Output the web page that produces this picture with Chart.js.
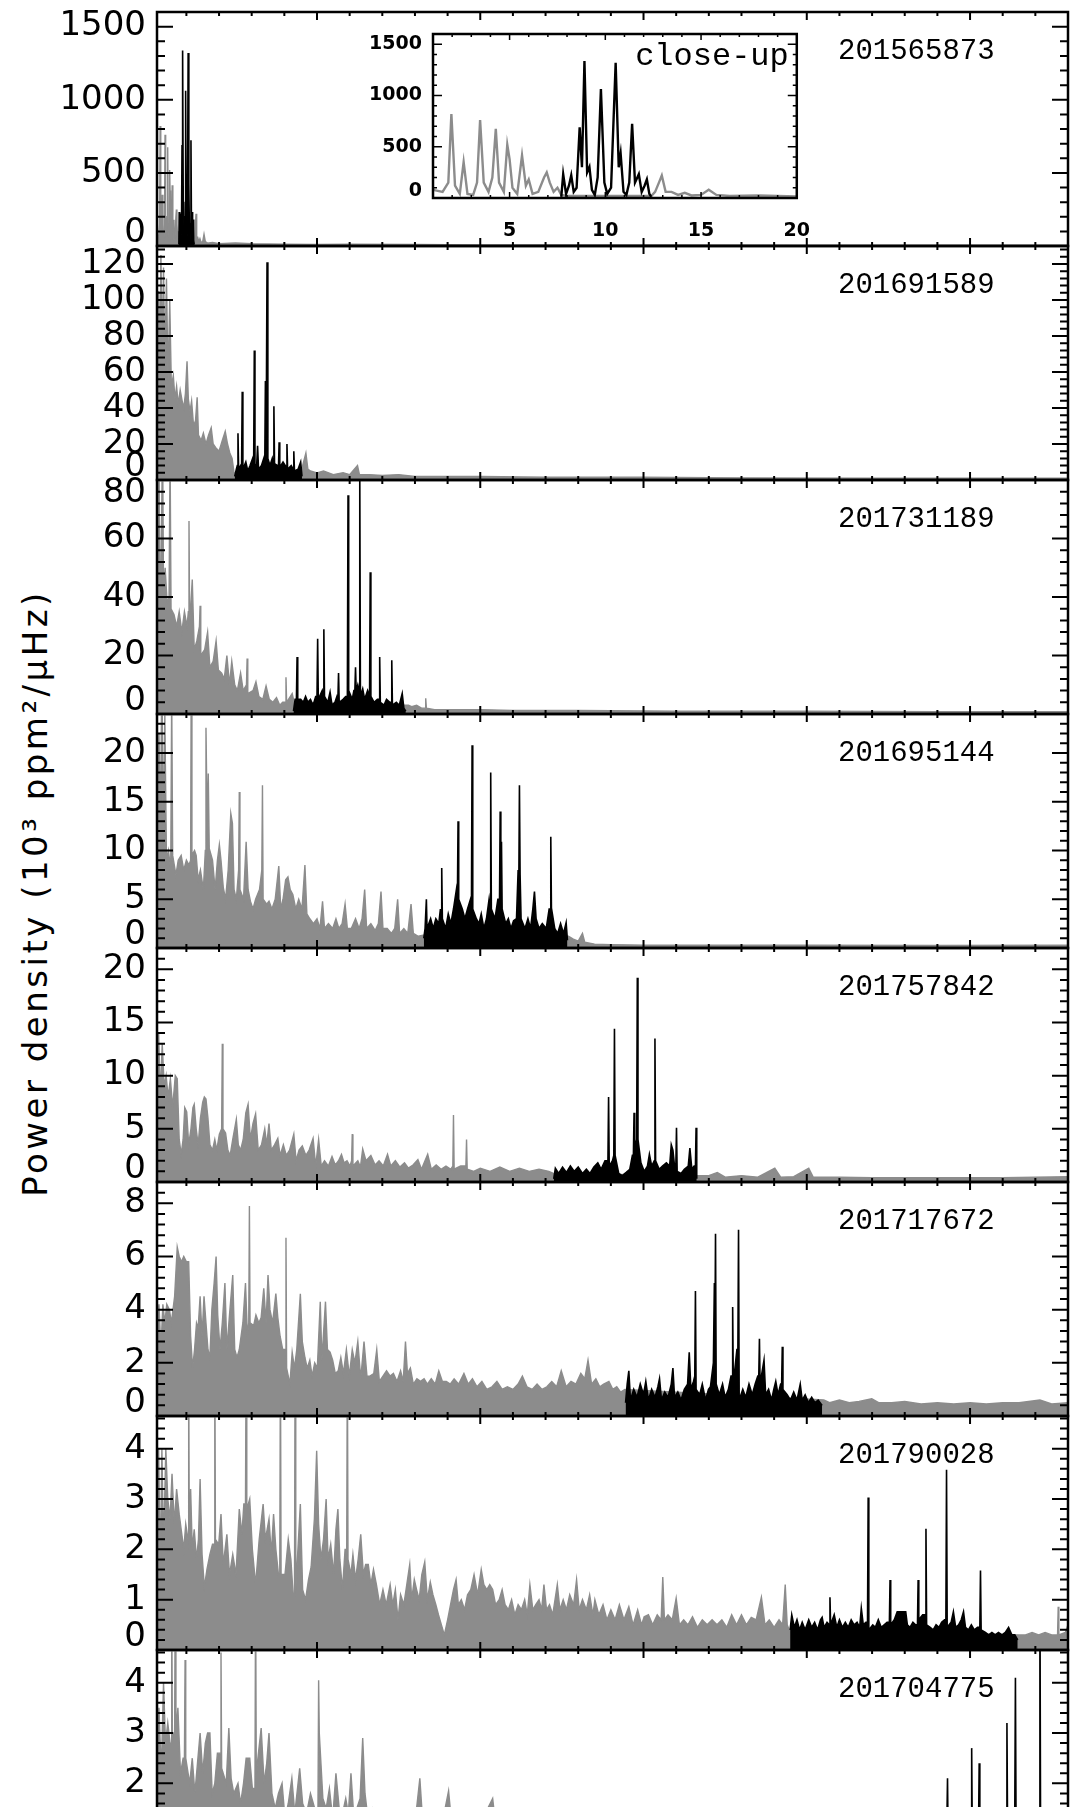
<!DOCTYPE html>
<html><head><meta charset="utf-8">
<script src="https://cdn.jsdelivr.net/npm/chart.js@4.4.1/dist/chart.umd.min.js"></script>
<style>
html,body{margin:0;padding:0;background:#fff;}
#wrap{position:relative;width:1073px;height:1807px;overflow:hidden;background:#fff;}
#wrap canvas{position:absolute;}
#ytitle{position:absolute;left:35px;top:893px;transform:translate(-50%,-50%) rotate(-90deg);font-family:'DejaVu Sans';font-size:34px;letter-spacing:3.5px;white-space:nowrap;color:#000;}
</style></head><body>
<div id="wrap"><div id="ytitle">Power density (10³ ppm²/μHz)</div></div>
<script>
// ---------------- DATA (frequency in μHz, power density in 10^3 ppm^2/μHz) ----------------
const starIds = ['201565873','201691589','201731189','201695144','201757842','201717672','201790028','201704775'];
const freqMin = 1, freqMax = 280;
const xMajorStep = 50, xMinorStep = 10;
const yMaxes = [1600, 130, 80, 24, 22, 8.8, 4.65, 4.65];
const yTickValues = [[0,500,1000,1500],[0,20,40,60,80,100,120],[0,20,40,60,80],[0,5,10,15,20],[0,5,10,15,20],[0,2,4,6,8],[0,1,2,3,4],[0,1,2,3,4]];
const yMajorSteps = [500, 20, 20, 5, 5, 2, 1, 1];
const yMinorSteps = [100, 4, 4, 1, 1, 0.4, 0.2, 0.2];
const topLabelShift = [false, false, true, false, false, false, false, false];
const insetFreqMin = 1, insetFreqMax = 20, insetXMajor = 5, insetXMinor = 1;
const insetXTickValues = [5, 10, 15, 20];
const insetYMax = 1600, insetYMajor = 500, insetYMinor = 100;
const insetYTickValues = [0, 500, 1000, 1500];
const insetLabel = 'close-up';

const gray1 = [[1,80],[1.5,60],[1.8,150],[1.96,820],[2.15,120],[2.4,40],[2.6,350],[2.8,40],[3.1,30],[3.3,150],[3.46,760],[3.65,150],[3.9,60],[4.1,200],[4.28,675],[4.45,150],[4.7,60],[4.88,520],[5.0,380],[5.15,100],[5.4,40],[5.65,415],[5.85,120],[6.0,180],[6.2,40],[6.5,60],[6.8,200],[6.94,250],[7.1,150],[7.3,60],[7.5,100],[7.7,30],[8.0,20],[12.4,20],[12.6,60],[12.8,150],[12.95,220],[13.15,60],[13.46,60],[13.8,30],[14.15,50],[14.5,25],[15,30],[15.4,80],[15.8,30],[16.5,20],[18,25],[20,15],[25,20],[30,15],[40,12],[50,10],[60,12],[80,10],[100,8],[130,8],[160,8],[200,6],[240,6],[280,5]];
const black1 = [[7.7,10],[7.8,232],[7.95,40],[8.1,120],[8.22,222],[8.35,60],[8.5,100],[8.66,690],[8.78,300],[8.91,1336],[9.05,250],[9.17,303],[9.3,80],[9.45,30],[9.6,200],[9.77,1062],[9.95,150],[10.1,40],[10.3,100],[10.54,1320],[10.7,300],[10.8,432],[10.95,60],[11.1,30],[11.25,150],[11.4,723],[11.55,150],[11.75,232],[11.9,60],[12.05,120],[12.17,181],[12.3,40],[12.4,10]];

const gray2 = [[1,60],[1.5,105],[1.8,60],[2.2,125],[2.6,70],[3,118],[3.4,65],[3.9,112],[4.4,55],[4.9,100],[5.4,52],[6,58],[6.5,45],[7,52],[7.5,42],[8.1,50],[8.7,44],[9.2,40],[9.7,48],[10.2,66],[10.6,45],[11.1,38],[11.6,44],[12.2,30],[12.8,33],[13.3,46],[13.7,25],[14.5,22],[15.2,26],[16,20],[16.8,25],[17.6,29],[18.2,20],[19,18],[20,16],[21,22],[21.9,27],[22.6,20],[23.3,15],[24,12],[24.6,4],[45.3,3],[45.6,8],[46.6,15],[47.2,6],[48,5],[50,4],[52,5],[55,3],[58,4],[60,3],[62.4,8],[63,3],[66,3],[70,2.5],[75,3],[80,2],[90,2],[100,2],[120,1.5],[150,1.5],[180,1.2],[220,1],[280,1]];
const black2 = [[24.8,2],[25.3,6],[25.6,8],[25.8,26],[26.0,6],[26.6,8],[26.9,6],[27.1,49],[27.3,6],[28.2,10],[28.8,5],[29.5,8],[30.3,12],[30.6,8],[30.8,72],[31.0,9],[31.5,7],[31.8,19],[32.1,6],[33,8],[33.7,12],[34.0,8],[34.2,55],[34.4,10],[34.7,121],[34.95,12],[35.6,8],[36.3,12],[36.6,9],[36.8,41],[37.0,9],[37.9,8],[38.2,7],[38.4,21],[38.6,7],[39.6,10],[40.3,8],[40.6,7],[40.8,20],[41.0,6],[42.1,8],[42.7,6],[42.9,16],[43.1,5],[44.2,6],[45,10],[45.4,2]];

const gray3 = [[1,40],[1.6,90],[1.9,40],[2.2,45],[2.7,95],[3.0,42],[3.5,50],[4.1,38],[4.7,40],[5.0,90],[5.3,36],[6.2,34],[7,30],[7.8,35],[8.6,28],[9.4,35],[10.2,30],[10.6,35],[10.8,66],[11.0,30],[11.8,46],[12.4,22],[13.2,25],[14.0,30],[14.2,37],[14.4,20],[15.6,22],[16.5,28],[17.2,16],[18.2,18],[19.1,25],[19.8,15],[20.8,14],[21.6,12],[22.4,20],[23.2,10],[23.9,18],[24.8,10],[25.6,8],[26.6,14],[27.4,8],[28.4,10],[28.6,19],[28.8,7],[30.4,8],[31.3,11],[32.2,6],[33.4,5],[34.4,9.6],[35.4,5],[36.5,4],[37.6,5.6],[38.6,3],[39.5,4],[40.3,4],[40.5,12.6],[40.7,4],[42.4,7],[43,4],[77.2,3],[78,3],[79,2.5],[80.5,3],[82,2],[83.1,2],[83.3,5.4],[83.5,2],[86,1.5],[90,1.5],[100,1.5],[110,1.2],[130,1.2],[160,1],[200,1],[240,0.8],[280,0.8]];
const black3 = [[42.8,1],[43.3,5],[43.7,5],[43.9,19.5],[44.1,5],[45,5],[45.8,4],[46.5,6],[47.2,4],[48,5],[48.8,3],[49.6,6],[50.0,6],[50.2,25.7],[50.4,5],[51.6,8],[51.9,6],[52.1,29],[52.3,6],[53.3,4],[54,7.5],[54.6,3],[55.5,4],[56.1,6],[56.4,5],[56.6,14],[56.8,4],[58,5],[58.8,6],[59.3,6],[59.5,74.8],[59.7,8],[60.8,5],[61.3,8],[61.6,8],[61.8,16],[62.0,8],[62.5,10],[62.9,8],[63.1,84],[63.3,6],[64,8.6],[64.6,5],[65.5,8],[66.1,6],[66.3,48.5],[66.5,6],[67.5,4],[68.5,5],[69.0,5],[69.2,19.5],[69.4,4],[70.5,3],[71.3,5],[72.3,4],[72.7,4],[72.9,18.4],[73.1,3],[74.3,4],[75.2,3],[76.1,7],[76.6,2],[77.2,1]];

const gray4 = [[1,10],[1.6,22],[2.1,12],[2.5,30],[2.9,10],[3.4,24],[3.9,9],[4.5,10],[5.2,8],[5.5,26],[5.8,9.5],[6.8,7.5],[7.5,9],[8.4,9.5],[9.2,8],[10,9],[10.8,8.5],[11.3,9],[11.5,30],[11.7,9.5],[12.5,10],[13,9.5],[13.6,7],[14.3,8],[15.2,6],[15.8,10],[16,22.6],[16.4,12],[16.7,17.9],[17.0,10.2],[18,9],[18.8,6],[19.5,9],[20.1,10.6],[20.6,9],[21.3,6.2],[22,5],[22.8,8],[23.6,13.8],[24.1,12.8],[24.6,6],[25.3,5],[26.0,8],[26.2,16],[26.4,6],[27.5,5],[28.3,10.9],[28.9,6],[29.6,4.8],[30.4,4],[31.2,5],[32.4,6],[33.1,8],[33.3,16.7],[33.5,5],[34.6,4.5],[35.3,4.8],[36.2,4],[37.2,5],[38.3,8.4],[38.9,4],[39.6,5],[40.4,7],[41.1,7.3],[41.8,6],[42.6,5.5],[43.5,4],[44.4,5],[45.4,4],[46.3,8.5],[46.9,3.5],[47.8,3],[48.9,2.5],[50,3],[50.9,2],[51.7,4.8],[52.3,2],[53.5,2.5],[54.8,2],[55.8,3],[56.7,2],[57.7,2.5],[58.6,4.5],[59.3,2],[60.5,2],[61.8,3],[62.9,2],[63.8,3],[64.6,6],[65.2,2],[66.5,2.5],[67.8,1.8],[68.8,2.5],[69.6,5.8],[70.2,2],[71.5,2],[72.8,1.5],[73.8,2],[74.7,5],[75.3,1.5],[76.6,2],[77.8,1.5],[78.8,4.5],[79.5,1.5],[81,1.2],[82.5,1.3],[127,1.2],[128.5,0.9],[130,0.7],[131.3,1.5],[132,0.6],[135,0.4],[140,0.35],[150,0.3],[170,0.3],[200,0.3],[240,0.25],[280,0.3]];
const black4 = [[82.7,1],[83.1,2],[83.3,2],[83.5,5],[83.7,2],[84.8,3],[85.6,2],[86.4,3],[87.3,2.5],[87.8,4],[88.0,3],[88.2,8.2],[88.4,3],[89.4,2],[90.2,3.5],[91,2.5],[91.8,4],[92.7,6],[93.0,5],[93.2,13],[93.4,5],[94.5,4],[95.3,3],[96.1,4],[97,5],[97.3,4],[97.5,20.8],[97.7,4],[98.8,3],[99.6,2.5],[100.3,3.5],[101.1,2],[101.9,3],[102.7,5],[103.0,4],[103.2,18],[103.4,4],[104.5,3],[105.4,5],[105.9,5],[106.1,14],[106.3,8],[106.5,10.9],[106.7,4],[107.8,2.5],[108.6,3],[109.4,2],[110.2,2.8],[111.1,3],[111.6,8],[111.8,6],[112,16.7],[112.2,7.5],[112.5,3],[113.7,2],[114.6,3],[115.4,2],[116.1,4],[116.6,5.8],[117.1,3],[118,2],[119,2.5],[120.2,2],[121.1,4],[121.4,4],[121.6,11.4],[121.8,4.1],[122.8,2],[123.7,1.5],[124.6,2.5],[125.5,1.5],[126.3,2.6],[126.7,0.8]];

const gray5 = [[1,5],[1.5,14],[2,8],[2.6,13],[3.2,9],[3.8,10],[4.4,8],[5.1,9.7],[5.8,7],[6.6,10],[7.2,9.7],[7.8,4],[8.4,2.6],[9,4],[9.5,7],[10.1,6.6],[10.7,3.5],[11.4,5],[12,7],[12.4,7.3],[13,5],[13.6,3.5],[14.3,6],[15,7.5],[15.5,8],[16,7.8],[16.6,6],[17.2,3.5],[18,3],[18.7,4],[19.3,3],[20.1,4.5],[20.8,5],[21,13],[21.2,5],[22,4.6],[22.7,3],[23.4,2.5],[24.2,4],[25.3,5.9],[25.9,3.5],[26.6,3],[27.4,4],[28.2,6.5],[28.9,7.3],[29.6,4],[30.4,5.5],[31.2,6.4],[32,3],[33,3.5],[34,5],[34.6,3.5],[35.3,5.5],[36,3],[37,3.5],[38,4.1],[38.7,2.5],[39.7,3.5],[40.6,2.5],[41.6,3],[42.9,4.5],[43.6,2],[44.5,3],[45.5,3.4],[46.6,2.5],[47.6,3],[48.8,4.1],[49.6,1.5],[50.5,4],[51.3,1.5],[52.3,2],[53.5,1.5],[54.6,2.4],[55.6,1.6],[56.6,2],[57.5,2.6],[58.3,1.8],[59.2,2],[60.1,1.5],[60.6,2],[60.8,4.5],[61.0,1.5],[62.5,2],[63.3,1.4],[64,3.1],[65,2],[66.5,2.5],[67.8,1.6],[69,2],[70.3,1.5],[71.6,2.6],[72.6,1.5],[74,2],[75.4,1.4],[76.8,1.8],[78,1.3],[79.4,1.6],[80.9,2.1],[82,1.2],[83.9,2.6],[85,1.2],[86.5,1.6],[88,1.2],[89.5,1.5],[91,1.2],[91.6,1.5],[91.8,6.3],[92.0,1.2],[94,1.5],[95.6,1.5],[95.8,4],[96.0,1.2],[98,1],[100,1.3],[103,1],[106,1.4],[109,1],[112,1.3],[115,1],[118,1.2],[121,1],[122.4,0.8],[167,0.6],[170,0.6],[172.6,0.9],[175,0.45],[180,0.6],[185,0.45],[190.2,1.3],[192,0.45],[196,0.5],[200.6,1.3],[202,0.45],[210,0.45],[220,0.4],[240,0.4],[260,0.4],[280,0.5]];
const black5 = [[122.5,0.3],[123,1.3],[124,0.8],[125.2,1.4],[126.4,0.9],[127.6,1.5],[128.8,1.0],[130,1.4],[131.3,0.8],[132.5,1.2],[133.6,0.8],[134.8,1.4],[136,1.8],[137,1.2],[138.2,2],[139.1,2],[139.3,8],[139.5,1.5],[140.5,2],[140.9,2.5],[141.1,14.4],[141.3,2.5],[142.4,0.8],[143.5,0.6],[144.7,0.9],[145.8,1.2],[146.6,2.5],[146.9,2.5],[147.1,6.5],[147.3,3],[147.9,4],[148.1,19.2],[148.3,4],[149.2,1.8],[150.2,1],[151.2,1.5],[151.8,2.6],[152.5,1.5],[153.3,2],[153.5,13.5],[153.7,2],[154.8,1.2],[155.8,1.5],[157,1.8],[158,1.5],[158.5,3.5],[159,3],[159.6,1.2],[159.9,1.5],[160.1,5.1],[160.3,1],[161.5,0.8],[162.5,1.2],[163.7,1.5],[164.2,3.2],[164.8,1.2],[165.5,1.5],[165.9,1.5],[166.1,5.1],[166.3,0.3]];

const gray6 = [[1,3.5],[1.6,4.2],[2.2,2.5],[2.8,4.2],[3.4,3.5],[4,4.2],[4.8,4],[5.4,3.5],[6.4,4.5],[7.2,6.35],[7.8,6],[8.5,5.8],[9.2,6],[10,5.8],[10.7,5.8],[11.3,3],[11.9,1.8],[12.5,2.5],[13.1,3.5],[13.6,3.3],[14.2,4.5],[14.8,3],[15.4,4.5],[16,3.5],[16.6,2.5],[17.2,2.2],[17.8,4],[18.5,5],[19.1,6.0],[19.6,3.8],[20.3,2.5],[21,3.5],[21.8,5.0],[22.4,2.5],[23.2,3.8],[24.2,5.3],[24.8,2.5],[25.5,2.2],[26.2,2.5],[27.3,3.5],[28.1,5],[28.7,3],[29.1,3.5],[29.3,7.9],[29.5,3.5],[30.6,3.4],[31.3,3.8],[32.2,3.5],[32.9,3.7],[33.7,4.8],[34.4,3.5],[35,5.3],[35.6,4],[36.4,3.5],[37.4,4.6],[38,3.7],[38.7,3],[39.5,2.5],[40.3,2.5],[40.5,6.7],[40.7,1.8],[41.7,1.2],[42.4,2.4],[43.1,1.8],[43.8,2.5],[44.9,4.6],[45.5,2.8],[46.3,2.2],[47,1.8],[47.8,2.1],[48.5,1.5],[49.3,2.0],[50.1,1.8],[51,4.3],[51.5,2.1],[52.6,4.3],[53.2,2.5],[54,2.4],[54.8,2.1],[55.6,1.6],[56.5,1.7],[57.3,2.2],[58.1,1.6],[59,2.5],[59.9,1.5],[60.8,2.5],[61.6,2],[62.5,2.8],[63.4,1.4],[64.4,2.8],[65.3,1.5],[66.2,1.5],[67.4,1.6],[68.3,2.5],[69.1,1.3],[70.2,1.5],[71.3,1.7],[72.4,1.5],[73.4,1.6],[74.5,1.3],[75.6,1.7],[76.4,1.3],[77.1,2.8],[77.7,1.6],[78.6,1.8],[79.5,1.2],[80.6,1.4],[81.7,1.3],[82.8,1.4],[83.8,1.2],[85,1.4],[86.2,1.2],[87.3,1.7],[88.4,1.3],[89.6,1.3],[90.8,1.2],[92,1.4],[93.4,1.2],[95,1.6],[96.3,1.2],[97.6,1.4],[99,1.1],[100.5,1.3],[102,1.0],[103.6,1.1],[105.1,1.3],[106.7,1.0],[108.3,1.1],[110,1.0],[111.6,1.2],[112.9,1.5],[114.3,1.1],[115.9,1.0],[117.4,1.2],[118.9,1.0],[120.4,1.1],[121.9,1.3],[123.4,1.1],[124.8,1.7],[126.3,1.1],[127.8,1.3],[129.3,1.2],[130.8,1.6],[132,1.4],[133,2.1],[134.1,1.2],[135.4,1.4],[136.6,1.1],[137.8,1.2],[139.4,1.3],[140.6,1.0],[141.8,1.1],[143,0.9],[144.3,1.0],[205.2,0.6],[207,0.5],[210,0.6],[213,0.5],[216,0.55],[219.9,0.65],[222,0.5],[226,0.5],[230,0.55],[235,0.45],[240,0.5],[245,0.45],[250,0.5],[255,0.45],[260,0.5],[265,0.5],[271.4,0.6],[275,0.45],[280,0.5]];
const black6 = [[144.5,0.5],[145,1.2],[145.5,1.7],[146,0.6],[147,1.0],[148,0.7],[149,1.2],[150,0.8],[150.7,1.3],[151.5,0.6],[152.5,1.0],[153.5,0.7],[154.4,1.1],[154.9,1.4],[155.5,0.6],[156.5,0.9],[157.5,0.7],[158.5,1.2],[159,1.8],[159.5,0.7],[160.5,0.9],[161.5,0.6],[162.5,1.0],[163.5,1.2],[164,2.4],[164.5,1.0],[165.3,1.3],[165.7,1.5],[165.9,4.7],[166.1,1.0],[167.2,0.8],[168,1.2],[169,0.6],[169.9,1.0],[170.5,1.1],[171.4,2.0],[171.7,5.0],[171.85,2.5],[172.05,6.85],[172.25,1.2],[173.2,0.8],[174.2,1.2],[175,0.7],[176,1.0],[176.8,1.5],[177.1,1.5],[177.3,4.1],[177.5,1.2],[178.6,2.5],[178.9,2.5],[179.1,7.0],[179.3,0.6],[180.4,1.0],[181.3,0.7],[182.3,1.2],[183.3,0.8],[184.2,1.2],[185,1.5],[185.3,1.5],[185.5,2.9],[185.7,1.2],[186.9,2.1],[187.4,0.8],[188.3,1.0],[189.2,0.6],[189.9,1.0],[190.5,1.3],[191.2,0.8],[192,1.2],[192.3,1.2],[192.5,2.6],[192.7,1.0],[194,0.8],[195,0.6],[196,0.9],[197,0.6],[198,1.2],[198.6,0.6],[199.5,0.8],[200.5,0.5],[201.5,0.7],[202.5,0.5],[203.5,0.6],[204.7,0.4]];

const gray7 = [[1,1.5],[1.5,4.0],[2,1.5],[2.5,4.0],[3,2],[3.7,4.0],[4.3,3],[5,2.6],[5.6,3.5],[6.3,2.5],[7,3.2],[7.8,2.7],[8.4,2.4],[9.2,2.0],[9.8,2.5],[10.5,2.2],[10.7,6],[10.9,2],[11.3,3.2],[11.8,2.0],[12.4,2.4],[13.1,1.8],[13.7,2.2],[14.2,3.4],[14.8,1.9],[15.5,1.25],[16.3,1.6],[17.2,1.9],[18,2.1],[18.5,2.1],[18.7,6],[18.9,2.2],[19.9,2.1],[20.6,2.7],[21.3,1.7],[22.4,2.3],[23.2,1.5],[24.2,1.9],[25.2,1.5],[26.2,2.8],[27,2.3],[27.6,2.9],[28.1,2.9],[28.3,6],[28.5,2.8],[29.4,3.0],[30.2,2.0],[31.2,1.3],[32.3,2.2],[33.5,2.9],[34.2,2.2],[35.3,2.6],[36,1.9],[36.7,2.7],[37.4,2.0],[38.2,1.5],[38.6,1.5],[38.8,6],[39.0,1.5],[40.2,1.5],[41.2,2.2],[42,1.8],[42.8,1.0],[43.1,1.0],[43.3,6],[43.5,1.2],[44.9,2.9],[45.6,1.2],[46.5,1.0],[47.4,1.4],[48.2,1.65],[49.2,2.6],[49.9,3.96],[50.5,2.5],[51.2,1.8],[52,2.2],[52.8,3.0],[53.4,1.8],[54.2,2.1],[55.1,1.5],[55.8,2.4],[56.4,2.8],[57,1.8],[57.8,1.2],[58.6,2.0],[59.1,2.0],[59.3,6],[59.5,1.8],[60.4,1.5],[61,1.9],[61.8,1.4],[62.6,1.8],[63.4,2.3],[64.2,1.5],[64.9,1.7],[65.7,1.7],[66.5,1.3],[67.3,1.6],[68.2,1.3],[69.2,0.9],[70.2,1.2],[71.2,0.9],[72.4,1.3],[73.2,0.9],[74,1.2],[74.8,0.6],[75.6,1.1],[76.6,0.9],[77.5,1.3],[78.4,1.7],[79,1.0],[79.8,1.4],[80.5,1.2],[81.3,1.0],[82.1,1.5],[83,1.75],[83.8,1.0],[84.7,1.35],[85.5,1.1],[86.4,0.9],[87.2,0.7],[88.1,0.5],[89,0.3],[90,0.6],[90.9,0.9],[91.8,1.2],[92.6,1.4],[93.3,0.9],[94.2,1.0],[95.2,0.8],[96.1,1.1],[97.1,1.2],[98.1,1.5],[99.2,1.1],[100.3,1.6],[101.1,1.3],[102,1.2],[102.9,1.3],[103.8,1.2],[104.7,0.9],[105.8,1.0],[106.7,1.2],[107.6,0.9],[108.6,0.8],[109.6,1.0],[110.6,0.7],[111.6,0.9],[112.6,0.8],[113.6,1.0],[114.4,0.7],[115.2,1.3],[116.1,0.8],[117,0.9],[118,1.0],[118.8,0.8],[119.5,1.3],[120.3,0.8],[121.2,0.9],[122.2,0.7],[122.9,1.0],[123.6,1.3],[124.4,0.8],[125.4,1.0],[126.4,0.8],[127.4,1.1],[128.6,0.9],[129.5,1.4],[130.3,0.8],[131.3,1.0],[132.5,0.8],[133.5,1.1],[134.5,0.7],[135.1,1.0],[136.3,0.7],[137.6,0.9],[138.8,0.6],[140,0.8],[141.3,0.6],[142.6,0.9],[144,0.6],[145.5,0.86],[146.8,0.5],[148.2,0.8],[149.4,0.5],[150.2,0.66],[151.5,0.7],[152.8,0.5],[154.2,0.7],[155.4,0.6],[155.9,1.45],[156.4,0.6],[157.5,0.7],[158.8,0.6],[160,1.03],[161,0.5],[162.3,0.6],[163.6,0.5],[165,0.66],[166.5,0.45],[168,0.6],[169.5,0.5],[171,0.6],[172.5,0.5],[174,0.6],[175.5,0.45],[177,0.7],[178.5,0.5],[180,0.7],[181.5,0.5],[183,0.65],[184.5,0.6],[186.1,1.05],[187.2,0.5],[188.5,0.6],[190,0.45],[191.5,0.6],[192.6,0.5],[193.4,1.3],[194,0.5],[194.6,0.4],[265,0.3],[267,0.3],[269,0.35],[271,0.3],[273,0.35],[275,0.3],[276.8,0.3],[277,0.86],[277.2,0.3],[279.2,0.35],[280,0.5]];
const black7 = [[194.9,0.4],[195.4,0.7],[196.2,0.45],[197,0.6],[197.8,0.4],[198.6,0.55],[199.5,0.4],[200.6,0.6],[201.5,0.45],[202.4,0.55],[203.3,0.4],[204.2,0.6],[204.7,0.65],[205.3,0.45],[206.2,0.55],[206.9,0.5],[207.1,1.05],[207.3,0.5],[208.4,0.7],[209.2,0.45],[210,0.6],[210.9,0.45],[211.8,0.55],[212.7,0.45],[213.6,0.6],[214.5,0.5],[215.4,0.55],[216.2,0.45],[216.7,0.83],[217.3,0.5],[218.1,0.55],[218.6,0.55],[218.8,3.03],[219.0,0.4],[220.2,0.5],[221,0.45],[221.9,0.6],[222.8,0.45],[223.7,0.5],[224.6,0.55],[225.3,0.55],[225.5,1.39],[225.7,0.5],[226.8,0.6],[227.7,0.76],[228.5,0.76],[229.4,0.76],[230.3,0.76],[230.8,0.5],[231.6,0.45],[232.5,0.55],[233.3,0.5],[233.9,0.5],[234.1,1.39],[234.3,0.6],[235.5,0.7],[236.3,0.7],[236.5,2.41],[236.7,0.5],[237.8,0.45],[238.7,0.4],[239.6,0.5],[240.5,0.45],[241.3,0.55],[242.2,0.6],[242.6,0.6],[242.8,3.58],[243.0,0.45],[244.2,0.55],[244.9,0.76],[245.6,0.45],[246.5,0.5],[247.3,0.6],[248,0.76],[248.6,0.45],[249.5,0.4],[250.4,0.5],[251.3,0.4],[252.3,0.45],[253.0,0.45],[253.2,1.58],[253.4,0.4],[254.7,0.35],[255.7,0.3],[256.7,0.35],[257.7,0.3],[258.7,0.35],[259.8,0.3],[260.8,0.35],[261.8,0.45],[262.8,0.3],[263.7,0.3],[264.6,0.2]];

const gray8 = [[1,2.5],[1.6,3.5],[2.3,2.2],[3,4.0],[3.6,2.8],[4.3,3.2],[5,2.8],[5.3,2.8],[5.5,6],[5.7,3],[6.4,3],[6.6,6],[6.8,3],[7.4,3.5],[8.2,2.2],[9,2.5],[9.4,2.5],[9.6,4.45],[9.8,2.5],[11,2.0],[11.8,2.5],[12.6,1.8],[13.4,2.4],[14.2,3.0],[15,2.2],[15.8,2.8],[16.5,3.0],[17.2,3.0],[17.9,1.8],[18.7,2.0],[19.5,2.6],[20.4,2.6],[20.6,4.6],[20.8,2.3],[22.2,2.0],[23,3.1],[23.7,2.1],[24.5,1.8],[25.8,2.0],[26.6,1.6],[27.5,2.0],[28.3,2.5],[29.4,2.5],[30.2,1.9],[31.0,1.9],[31.2,6],[31.4,2.2],[32.9,3.1],[33.8,2.0],[34.6,2.4],[35.3,3.0],[36.2,1.8],[37.2,1.5],[38.2,1.8],[39.3,2.0],[40.2,1.3],[41.2,1.6],[42.3,2.1],[43.2,1.4],[44.7,2.3],[45.6,1.6],[46.8,1.4],[48,1.8],[49.3,1.5],[50.3,1.5],[50.5,4.05],[50.7,3.0],[51.8,1.7],[52.8,1.5],[53.8,1.9],[54.8,1.3],[55.8,2.2],[56.8,1.5],[57.8,1.4],[58.8,1.7],[59.6,1.4],[60.4,2.2],[61.3,1.3],[62.2,1.5],[63.2,1.7],[64,2.9],[64.7,1.8],[65.6,1.3],[67,1.5],[68.5,1.2],[70,1.4],[72,1.2],[74,1.3],[76,1.1],[78,1.3],[80,1.2],[81.5,2.1],[82.5,1.1],[85,1.2],[88,1.1],[90.3,1.85],[91.5,1.0],[94,1.1],[97,1.0],[100,1.2],[103.8,1.7],[105,1.0],[110,1.0],[115,0.9],[120,1.0],[130,0.8],[140,0.8],[150,0.7],[160,0.8],[170,0.7],[180,0.7],[190,0.6],[200,0.6],[210,0.6],[220,0.5],[224.8,0.4],[278.2,0.3],[280,0.5]];
const black8 = [[225,0.3],[226,0.8],[228,0.5],[230,0.9],[232,0.6],[234,1.0],[236,0.7],[238,1.1],[240,0.8],[242.4,1.0],[242.9,1.2],[243.1,2.1],[243.3,0.8],[245,1.0],[247,0.7],[249,1.2],[250.3,1.2],[250.5,2.7],[250.7,0.9],[252.6,1.1],[252.8,2.4],[253.0,0.8],[255,1.0],[257,0.8],[259,1.1],[261.1,1.3],[261.3,3.2],[261.5,1.0],[263.7,1.4],[263.9,4.1],[264.1,1.0],[266,0.8],[268,1.1],[270,0.9],[271.2,1.5],[271.4,6.0],[271.6,1.0],[273.5,0.8],[275,0.9],[276.5,0.6],[278,0.3]];

const graySeries = [gray1, gray2, gray3, gray4, gray5, gray6, gray7, gray8];
const blackSeries = [black1, black2, black3, black4, black5, black6, black7, black8];

// ---------------- LAYOUT / STYLE ----------------
const PAGE_W = 1073, PANEL_TOP0 = 12, PANEL_H = 234, PLOT_LEFT = 157, PLOT_RIGHT = 1068, PAD = 40;
const GRAY = '#8c8c8c', BLACK = '#000000';
Chart.defaults.font.family = 'DejaVu Sans';

const framePlugin = {
  id: 'frame',
  beforeDraw(chart, args, o) {
    if (!o.whiteBg) return;
    const a = chart.chartArea, ctx = chart.ctx;
    ctx.save(); ctx.fillStyle = '#fff';
    ctx.fillRect(a.left, a.top, a.right - a.left, a.bottom - a.top);
    ctx.restore();
  },
  afterDraw(chart, args, o) {
    const ctx = chart.ctx, a = chart.chartArea, xs = chart.scales.x, ys = chart.scales.y;
    ctx.save();
    ctx.strokeStyle = '#000';
    ctx.lineWidth = o.tickWidth;
    ctx.beginPath();
    const nx0 = Math.ceil(xs.min / o.xMinor - 1e-9), nx1 = Math.floor(xs.max / o.xMinor + 1e-9);
    for (let k = nx0; k <= nx1; k++) {
      const v = k * o.xMinor;
      const px = xs.getPixelForValue(v);
      const maj = Math.abs(v / o.xMajor - Math.round(v / o.xMajor)) < 1e-6;
      const L = maj ? o.xMajLen : o.xMinLen;
      ctx.moveTo(px, a.bottom); ctx.lineTo(px, a.bottom - L);
      ctx.moveTo(px, a.top); ctx.lineTo(px, a.top + L);
    }
    const ny1 = Math.floor(ys.max / o.yMinor + 1e-9);
    for (let k = 0; k <= ny1; k++) {
      const v = k * o.yMinor;
      const py = ys.getPixelForValue(v);
      const maj = Math.abs(v / o.yMajor - Math.round(v / o.yMajor)) < 1e-6;
      const L = maj ? o.yMajLen : o.yMinLen;
      ctx.moveTo(a.left, py); ctx.lineTo(a.left + L, py);
      ctx.moveTo(a.right, py); ctx.lineTo(a.right - L, py);
    }
    ctx.stroke();
    ctx.lineWidth = o.frameWidth;
    ctx.strokeRect(a.left, a.top, a.right - a.left, a.bottom - a.top);
    if (o.label) {
      ctx.fillStyle = '#000';
      ctx.font = o.labelFont;
      ctx.textAlign = o.labelAlign;
      ctx.textBaseline = 'alphabetic';
      const lx = o.labelAlign === 'right' ? a.right - o.labelDx : a.left + o.labelDx;
      ctx.fillText(o.label, lx, a.top + o.labelDy);
    }
    ctx.restore();
  }
};
Chart.register(framePlugin);

const wrap = document.getElementById('wrap');
function addCanvas(left, top, w, h) {
  const cv = document.createElement('canvas');
  cv.width = w; cv.height = h;
  cv.style.left = left + 'px'; cv.style.top = top + 'px';
  cv.style.width = w + 'px'; cv.style.height = h + 'px';
  wrap.appendChild(cv);
  return cv;
}
const toXY = arr => arr.map(p => ({ x: p[0], y: p[1] }));
const setTicks = vals => (s => { s.ticks = vals.map(v => ({ value: v })); });

function buildPanel(i) {
  const cv = addCanvas(0, PANEL_TOP0 + i * PANEL_H - PAD, PAGE_W, PANEL_H + 2 * PAD);
  const yMax = yMaxes[i];
  const topVal = yTickValues[i][yTickValues[i].length - 1];
  new Chart(cv, {
    type: 'line',
    data: { datasets: [
      { data: toXY(blackSeries[i]), borderColor: BLACK, backgroundColor: BLACK, borderWidth: 1.6, fill: 'origin', pointRadius: 0, tension: 0, order: 0 },
      { data: toXY(graySeries[i]), borderColor: GRAY, backgroundColor: GRAY, borderWidth: 1.4, fill: 'origin', pointRadius: 0, tension: 0, order: 1 }
    ]},
    options: {
      responsive: false, animation: false, devicePixelRatio: 1, events: [],
      layout: { padding: { left: 0, right: PAGE_W - PLOT_RIGHT, top: PAD, bottom: PAD } },
      plugins: {
        legend: { display: false }, tooltip: { enabled: false },
        frame: { tickWidth: 2, frameWidth: 2.5, xMajor: xMajorStep, xMinor: xMinorStep, xMajLen: 8, xMinLen: 4,
                 yMajor: yMajorSteps[i], yMinor: yMinorSteps[i], yMajLen: 16, yMinLen: 8,
                 label: starIds[i], labelFont: '29px "Liberation Mono"', labelAlign: 'left', labelDx: 681, labelDy: 47 }
      },
      scales: {
        x: { type: 'linear', min: freqMin, max: freqMax, display: false },
        y: { type: 'linear', min: 0, max: yMax,
             afterBuildTicks: setTicks(yTickValues[i]),
             afterFit: s => { s.width = PLOT_LEFT; },
             grid: { display: false, drawTicks: false }, border: { display: false },
             ticks: { autoSkip: false, padding: 11, color: '#000',
                      font: { family: 'DejaVu Sans', size: 34, lineHeight: 0.75 },
                      callback: (v) => { const s = String(v); if (v === 0) return [s, '']; if (topLabelShift[i] && v === topVal) return ['', s]; return s; } } }
      }
    }
  });
}
for (let i = 0; i < 8; i++) buildPanel(i);

// ---------------- INSET (close-up of the first star) ----------------
(function () {
  const IN_LEFT = 433, IN_TOP = 34, IN_W = 369, IN_H = 164;
  const cv = addCanvas(IN_LEFT - 100, IN_TOP - 20, 100 + IN_W + 30, 20 + IN_H + 60);
  new Chart(cv, {
    type: 'line',
    data: { datasets: [
      { data: toXY(black1), borderColor: BLACK, borderWidth: 2.4, fill: false, pointRadius: 0, tension: 0, order: 0 },
      { data: toXY(gray1), borderColor: GRAY, borderWidth: 2.4, fill: false, pointRadius: 0, tension: 0, order: 1 }
    ]},
    options: {
      responsive: false, animation: false, devicePixelRatio: 1, events: [],
      layout: { padding: { left: 0, right: 30, top: 20, bottom: 0 } },
      plugins: {
        legend: { display: false }, tooltip: { enabled: false },
        frame: { whiteBg: true, tickWidth: 1.5, frameWidth: 2.5, xMajor: insetXMajor, xMinor: insetXMinor, xMajLen: 6, xMinLen: 3,
                 yMajor: insetYMajor, yMinor: insetYMinor, yMajLen: 9, yMinLen: 4,
                 label: insetLabel, labelFont: '32px "Liberation Mono"', labelAlign: 'right', labelDx: 8, labelDy: 31 }
      },
      scales: {
        x: { type: 'linear', min: insetFreqMin, max: insetFreqMax,
             afterBuildTicks: setTicks(insetXTickValues),
             afterFit: s => { s.height = 60; },
             grid: { display: false, drawTicks: false }, border: { display: false },
             ticks: { autoSkip: false, maxRotation: 0, padding: 22, color: '#000',
                      font: { family: 'DejaVu Sans', size: 19, weight: 'bold' }, callback: v => String(v) } },
        y: { type: 'linear', min: 0, max: insetYMax,
             afterBuildTicks: setTicks(insetYTickValues),
             afterFit: s => { s.width = 100; },
             grid: { display: false, drawTicks: false }, border: { display: false },
             ticks: { autoSkip: false, padding: 11, color: '#000',
                      font: { family: 'DejaVu Sans', size: 19, weight: 'bold', lineHeight: 0.75 },
                      callback: v => { const s = String(v); return v === 0 ? [s, ''] : s; } } }
      }
    }
  });
})();
</script>
</body></html>
